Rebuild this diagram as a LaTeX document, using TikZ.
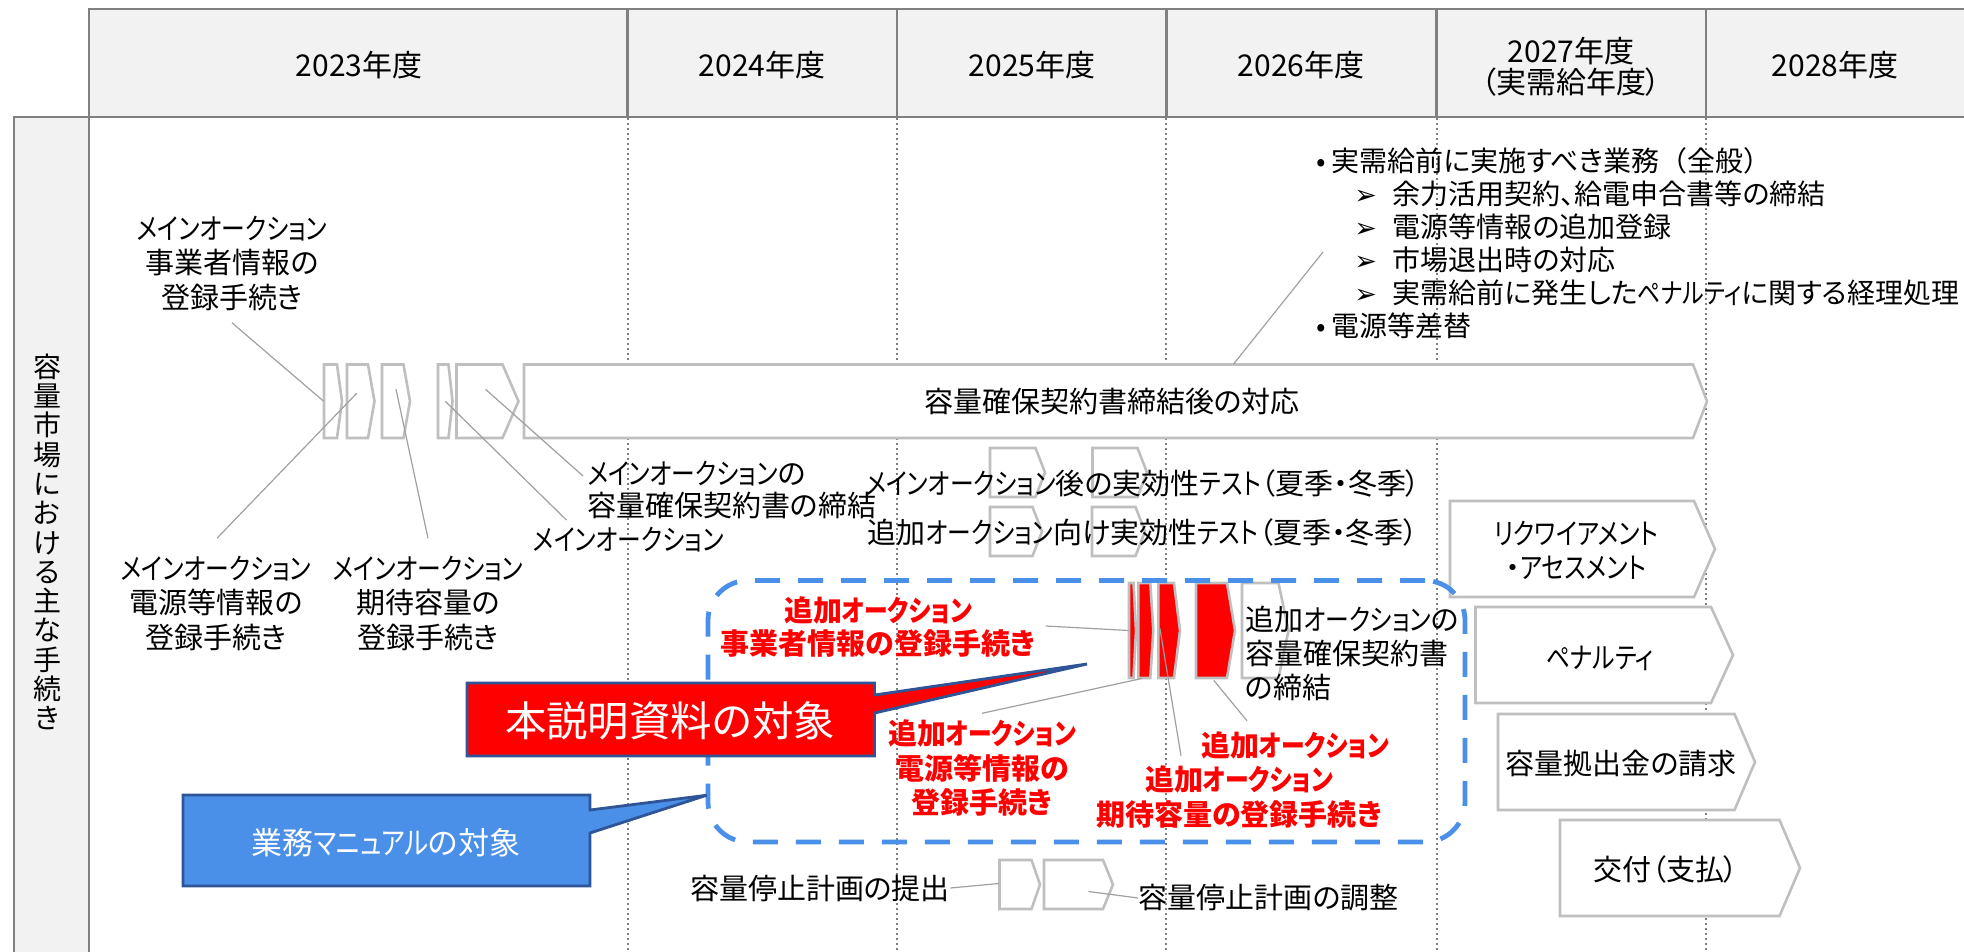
\documentclass[tikz,border=0pt]{standalone}
\usepackage{fontspec}
\usepackage{graphicx}
\setmainfont{Noto Sans CJK JP}[RawFeature={+palt}]
\newfontfamily\kanafont{Noto Sans CJK JP}[RawFeature={+palt}, FakeStretch=0.82]
\newfontfamily\fullpar{Noto Sans CJK JP}
\newfontfamily\dejavu{DejaVu Sans}
\newcommand\K[1]{{\kanafont #1}}
\newcommand\arr{\makebox[19pt][l]{\dejavu\fontsize{13.5}{13.5}\selectfont ➢}}
\usetikzlibrary{calc,fit}
\definecolor{hdrfill}{HTML}{F2F2F2}
\definecolor{hdrline}{HTML}{808080}
\definecolor{dotline}{HTML}{7F7F7F}
\definecolor{chevline}{HTML}{BFBFBF}
\definecolor{leadgray}{HTML}{A0A0A0}
\definecolor{pptred}{HTML}{FF0000}
\definecolor{darkblue}{HTML}{2F5597}
\definecolor{pptblue}{HTML}{4A8FE8}
\tikzset{
  lbl/.style={font=\fontsize{14.5}{17.25}\selectfont, align=center, inner sep=0pt},
  hdr/.style={font=\fontsize{15}{15.5}\selectfont, align=center, inner sep=0pt},
  bul/.style={font=\fontsize{14}{16}\selectfont, anchor=west, inner sep=0pt},
  redlbl/.style={font=\fontsize{14.5}{17.25}\selectfont\bfseries, text=pptred, align=center, inner sep=0pt},
  leader/.style={draw=leadgray, line width=0.6pt},
  chevbox/.style={draw=chevline, line width=1.3pt, fill=white, line join=miter},
  redchev/.style={draw=chevline, line width=1.3pt, fill=pptred, line join=miter},
  yearline/.style={draw=dotline, line width=1pt, dash pattern=on 1.2pt off 1.3pt},
  hline/.style={draw=hdrline, line width=1.3pt},
  dashframe/.style={draw=pptblue, line width=2.4pt, dash pattern=on 12.5pt off 9pt, rounded corners=20pt, inner sep=0pt},
  callred/.style={fill=pptred, draw=darkblue, line width=1.4pt, line join=miter},
  callblue/.style={fill=pptblue, draw=darkblue, line width=1.4pt, line join=miter},
}
% style, name, x1, y1, x2 (tip), y2, depth
\newcommand\hplate[7]{%
  \draw[#1] (#3,#4) -- ({#5-#7},#4) -- (#5,{(#4+#6)/2}) -- ({#5-#7},#6) -- (#3,#6) -- cycle;
  \node[inner sep=0pt, fit={(#3,#4) (#5,#6)}] (#2) {};
}
\begin{document}
\begin{tikzpicture}[x=0.5pt,y=-0.5pt]
\useasboundingbox (0,0) rectangle (1964,952);
\clip (0,0) rectangle (1964,952);
% backgrounds
\fill[hdrfill] (14,117) rectangle (89,960);
\fill[hdrfill] (89,9) rectangle (1970,117);
% dotted year lines
\foreach \x in {627.6,897,1166.2,1436.7,1706} \draw[yearline] (\x,118) -- (\x,952);
% grid lines
\draw[hline] (1970,9) -- (89,9) -- (89,960);
\draw[hline] (14,960) -- (14,117) -- (1970,117);
\foreach \x in {627.6,897,1166.2,1436.7,1706} \draw[hline] (\x,9) -- (\x,117);
% header texts
\node[hdr] (y23) at (359,65) {2023年度};
\node[hdr] (y24) at (762,65) {2024年度};
\node[hdr] (y25) at (1032,65) {2025年度};
\node[hdr] (y26) at (1301,65) {2026年度};
\node[hdr] (y27) at (1571,67) {2027年度\\（実需給年度）};
\node[hdr] (y28) at (1835,65) {2028年度};
% side text
\node[lbl, font=\fontsize{14}{14.65}\selectfont] (side) at (47,542) {容\\量\\市\\場\\に\\お\\け\\る\\主\\な\\手\\続\\き};

% upper row chevrons
\hplate{chevbox}{s1}{324}{364.5}{342}{438}{5}
\hplate{chevbox}{s2}{347}{364.5}{374.5}{438}{6.5}
\hplate{chevbox}{s3}{382}{364.5}{410}{438}{6.5}
\hplate{chevbox}{s4}{438}{364.5}{452.5}{438}{4}
\hplate{chevbox}{s5}{456.5}{364.5}{518.5}{438}{16}
\hplate{chevbox}{big}{524}{364.5}{1707}{438}{14}
\node[lbl] (bigtxt) at (1112,401) {容量確保契約書締結後の対応};

% test rows
\hplate{chevbox}{t1a}{990}{448}{1045}{497}{9.5}
\hplate{chevbox}{t1b}{1092.5}{448}{1147}{497}{9.5}
\hplate{chevbox}{t2a}{990}{507}{1042}{556}{9.5}
\hplate{chevbox}{t2b}{1092}{507}{1145}{556}{9.5}

% right column
\hplate{chevbox}{r1}{1450}{501}{1715}{597}{21}
\hplate{chevbox}{r2}{1475.5}{607}{1733}{703}{22}
\hplate{chevbox}{r3}{1498}{714}{1755}{810}{20.5}
\hplate{chevbox}{r4}{1560}{820}{1800}{916}{20.5}

% bottom row
\hplate{chevbox}{p1}{999.5}{860}{1040}{909}{8.5}
\hplate{chevbox}{p2}{1044}{860}{1113}{909}{10}

% red (additional auction) chevrons
\hplate{redchev}{ra}{1129}{583}{1136}{678}{2.5}
\hplate{redchev}{rb}{1138.3}{583}{1153.3}{678}{3}
\hplate{redchev}{rc}{1158.3}{583}{1180}{678}{6}
\hplate{redchev}{rd}{1196}{583}{1235}{678}{8}
\hplate{chevbox}{re}{1242}{583}{1288.5}{678}{10}

% labels upper
\node[lbl] (LabA) at (232,263) {\K{メインオークション}\\事業者情報の\\登録手続き};
\node[lbl] (LabB) at (216,603) {\K{メインオークション}\\電源等情報の\\登録手続き};
\node[lbl] (LabC) at (428,603) {\K{メインオークション}\\期待容量の\\登録手続き};
\node[lbl] (LabD) at (628.5,540) {\K{メインオークション}};
\node[lbl, anchor=west, align=left, font=\fontsize{14.5}{16.25}\selectfont] (LabE) at (587,490) {\K{メインオークション}の\\容量確保契約書の締結};

% bullet block
\node[bul] (b1) at (1316,161) {•\hspace{3pt}実需給前に実施すべき業務{\fullpar （}全般{\fullpar ）}};
\node[bul] (b2) at (1354,194) {\arr 余力活用契約、給電申合書等の締結};
\node[bul] (b3) at (1354,227) {\arr 電源等情報の追加登録};
\node[bul] (b4) at (1354,260) {\arr 市場退出時の対応};
\node[bul] (b5) at (1354,293) {\arr 実需給前に発生した\K{ペナルティ}に関する経理処理};
\node[bul] (b6) at (1316,326) {•\hspace{3pt}電源等差替};

% test labels
\node[lbl] (t1) at (1143,483) {\K{メインオークション}後の実効性\K{テスト}（夏季・冬季）};
\node[lbl] (t2) at (1143,532) {追加\K{オークション}向け実効性\K{テスト}（夏季・冬季）};

% right column labels
\node[lbl, font=\fontsize{14.5}{17}\selectfont] (r1t) at (1576,550) {\K{リクワイアメント}\\・\K{アセスメント}};
\node[lbl] (r2t) at (1600,658) {\K{ペナルティ}};
\node[lbl] (r3t) at (1621,763) {容量拠出金の請求};
\node[lbl] (r4t) at (1666,869) {交付（支払）};

% bottom labels
\node[lbl] (p1t) at (820,888) {容量停止計画の提出};
\node[lbl] (p2t) at (1268.5,898) {容量停止計画の調整};

% red labels
\node[redlbl, font=\fontsize{14.5}{16.5}\selectfont\bfseries] (RL1) at (878,627) {追加\K{オークション}\\事業者情報の登録手続き};
\node[redlbl] (RL2) at (982,768) {追加\K{オークション}\\電源等情報の\\登録手続き};
\node[redlbl] (RL3) at (1295,745) {追加\K{オークション}};
\node[redlbl, font=\fontsize{14.5}{17.5}\selectfont\bfseries] (RL4) at (1239,797.5) {追加\K{オークション}\\期待容量の登録手続き};
\node[lbl, anchor=west, align=left, font=\fontsize{14.5}{17}\selectfont] (GL) at (1245,653) {追加\K{オークション}の\\容量確保契約書\\の締結};

% leaders
\draw[leader] ([shift={(0,12)}]LabA.south) -- (s1.west);
\draw[leader] ([shift={(1,-17)}]LabB.north) -- ([shift={(-4,-8)}]s2.center);
\draw[leader] ([shift={(0,-17)}]LabC.north) -- ([shift={(0,-12)}]s3.center);
\draw[leader] (s4.center) -- ([shift={(-62,-7)}]LabD.north);
\draw[leader] ([shift={(-2,-12)}]s5.center) -- ([shift={(-4,-14)}]LabE.west);
\draw[leader] ([shift={(-31,-8)}]b4.west) -- ([shift={(118,0)}]big.north);
\draw[leader] (p1t.east) -- ([shift={(0,-1)}]p1.west);
\draw[leader] ([shift={(10,7)}]p2.center) -- (p2t.west);
\draw[leader] ([shift={(10,-1)}]RL1.east) -- (ra.west);
\draw[leader] ([shift={(0,-6)}]RL2.north) -- ([shift={(-3.5,0)}]rb.south);
\draw[leader] ([shift={(2,-2)}]rc.west) -- ([shift={(-58,-10)}]RL4.north);
\draw[leader] ([shift={(-1.7,2)}]rd.south) -- ([shift={(-48,-10)}]RL3.north);

% dashed frame
\node[dashframe, fit={(708,580.5) (1465,842)}] (frame) {};

% callouts
\coordinate (redtip) at (1087,664);
\filldraw[callred] (467,683) -- (874.5,683) -- (874.5,695) -- (redtip) -- (874.5,713) -- (874.5,756) -- (467,756) -- cycle;
\node[font=\fontsize{20.7}{24}\selectfont, text=white, inner sep=0pt] (redcall) at (670,721) {本説明資料の対象};
\coordinate (bluetip) at ([shift={(1,84)}]frame.west);
\filldraw[callblue] (183,795) -- (590,795) -- (590,810) -- (bluetip) -- (590,833) -- (590,886) -- (183,886) -- cycle;
\node[font=\fontsize{15.5}{18}\selectfont, text=white, inner sep=0pt] (bluecall) at (386,843) {業務\K{マニュアル}の対象};
\end{tikzpicture}
\end{document}
